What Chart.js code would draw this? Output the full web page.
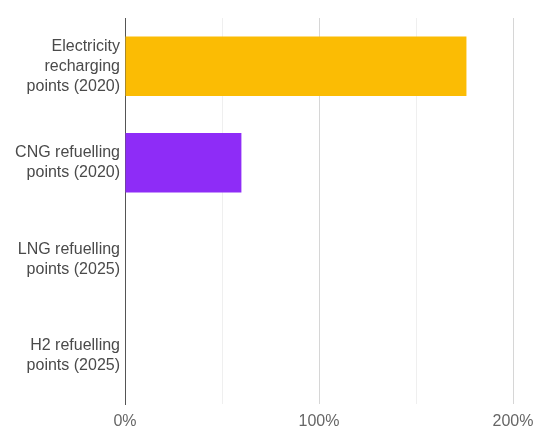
<!DOCTYPE html>
<html>
<head>
<meta charset="utf-8">
<script src="https://cdn.jsdelivr.net/npm/chart.js@4"></script>
<style>
  body { margin: 0; background: #fff; }
  canvas { display: block; }
</style>
</head>
<body>
<canvas id="infraChart" width="534" height="431"></canvas>
<script>
// Categories (multi-line labels) and values in percent
const categories = [
    ["Electricity", "recharging", "points (2020)"],
    ["CNG refuelling", "points (2020)"],
    ["LNG refuelling", "points (2025)"],
    ["H2 refuelling", "points (2025)"]
];
const values = [176, 60, 0, 0];
const barColors = ["#fbbc04", "#8e2cf7", "#8e2cf7", "#8e2cf7"];
const xTicks = [0, 50, 100, 150, 200];
const xTickLabels = ["0%", "", "100%", "", "200%"];

function renderChart() {
    const ctx = document.getElementById("infraChart").getContext("2d");
    new Chart(ctx, {
        type: "bar",
        data: {
            labels: categories,
            datasets: [{
                data: values,
                backgroundColor: barColors,
                borderWidth: 0,
                categoryPercentage: 1,
                barPercentage: 0.615
            }]
        },
        options: {
            indexAxis: "y",
            responsive: false,
            animation: false,
            layout: { padding: { top: 18, right: 0, left: 0, bottom: 0 } },
            plugins: {
                legend: { display: false },
                tooltip: { enabled: false }
            },
            scales: {
                x: {
                    min: xTicks[0],
                    max: xTicks[xTicks.length - 1],
                    afterBuildTicks: (scale) => {
                        scale.ticks = xTicks.map(v => ({ value: v }));
                    },
                    afterFit: (scale) => {
                        scale.height = 27;
                        scale.paddingLeft = 0;
                        scale.paddingRight = 21;
                    },
                    ticks: {
                        autoSkip: false,
                        maxRotation: 0,
                        padding: 8,
                        color: "#666",
                        font: { family: "Liberation Sans, Arial, sans-serif", size: 16 },
                        callback: (v) => xTickLabels[xTicks.indexOf(v)]
                    },
                    grid: {
                        drawTicks: false,
                        color: (c) => {
                            const v = c.tick ? c.tick.value : 0;
                            if (v === 0) return "rgba(0,0,0,0)";
                            return v % 100 === 0 ? "#d6d6d6" : "#efefef";
                        }
                    },
                    border: { display: false }
                },
                y: {
                    afterFit: (scale) => {
                        scale.width = 125;
                        scale.paddingTop = 0;
                        scale.paddingBottom = 0;
                    },
                    ticks: {
                        padding: 5,
                        color: "#4a4a4a",
                        font: { family: "Liberation Sans, Arial, sans-serif", size: 16, lineHeight: 1.25 }
                    },
                    grid: { display: false, drawTicks: false },
                    border: { display: true, color: "#555", width: 1 }
                }
            }
        }
    });
}

document.addEventListener("DOMContentLoaded", renderChart);
</script>
</body>
</html>
